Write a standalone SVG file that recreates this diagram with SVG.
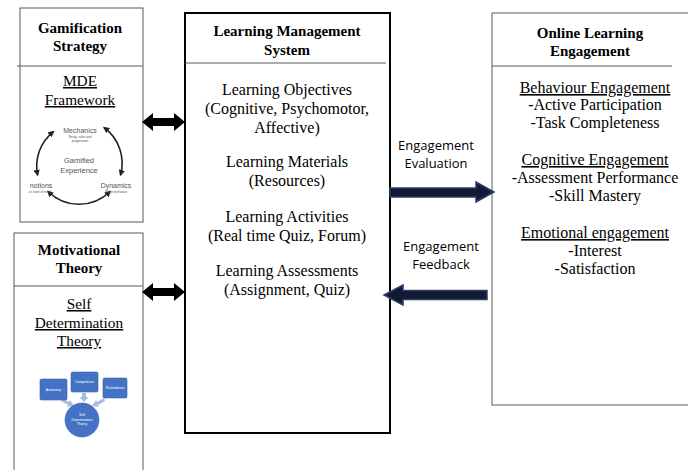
<svg xmlns="http://www.w3.org/2000/svg" width="688" height="470" viewBox="0 0 688 470">
  <style>
    .box { fill: #ffffff; stroke: #5a5a5a; stroke-width: 1; }
    .lms { fill: #ffffff; stroke: #000000; stroke-width: 2; }
    .div { stroke: #5a5a5a; stroke-width: 1; }
    .t { font-family: 'Liberation Serif', 'DejaVu Serif', serif; font-size: 15.3px; fill: #000; text-anchor: middle; }
    .m { font-size: 16px; }
    .b { font-weight: bold; font-size: 15px; }
    .u { text-decoration: underline; }
    .s { font-family: 'Open Sans', 'Liberation Sans', sans-serif; font-size: 13px; fill: #000; text-anchor: middle; }
    .tiny { font-family: 'Liberation Sans', sans-serif; fill: #555; text-anchor: middle; }
    .wt { font-family: 'Liberation Sans', sans-serif; font-size: 3.4px; fill: #ffffff; text-anchor: middle; }
    .cyc { fill: none; stroke: #222; stroke-width: 1.6; }
    .sdt { fill: #4472c4; stroke: #3a63ad; stroke-width: 0.6; }
    .sdtarrow { fill: #a9bce0; }
    .dbl { fill: #000; }
    .navy { fill: #111a33; stroke: #2c3d68; stroke-width: 1.5; }
  </style>
  <defs>
    <marker id="ah" viewBox="0 0 10 10" refX="8" refY="5" markerWidth="4" markerHeight="4" orient="auto-start-reverse">
      <path d="M0,0 L10,5 L0,10 Z" fill="#222"/>
    </marker>
  </defs>

  <!-- Gamification strategy -->
  <g id="gamification">
    <rect class="box" x="20" y="8" width="123" height="214"/>
    <line class="div" x1="17" y1="66" x2="143" y2="66"/>
    <text class="t b" x="80" y="33">Gamification</text>
    <text class="t b" x="80" y="51">Strategy</text>
    <text class="t u" x="80" y="86">MDE</text>
    <text class="t u" x="80" y="105">Framework</text>
    <!-- MDE cycle -->
    <path class="cyc" d="M53.5,131.6 A44,44 0 0 0 37.6,175" marker-start="url(#ah)" marker-end="url(#ah)"/>
    <path class="cyc" d="M48,191.5 A44,44 0 0 0 110,191.5" marker-start="url(#ah)" marker-end="url(#ah)"/>
    <path class="cyc" d="M104,127.5 A44,44 0 0 1 120.5,175" marker-start="url(#ah)" marker-end="url(#ah)"/>
    <text class="tiny" x="80" y="133" font-size="7">Mechanics</text>
    <text class="tiny" x="80" y="138" font-size="3.2">Setup, rules and</text>
    <text class="tiny" x="80" y="141.5" font-size="3.2">progression</text>
    <text class="tiny" x="79" y="163" font-size="7.5">Gamified</text>
    <text class="tiny" x="79" y="173" font-size="7.5">Experience</text>
    <text class="tiny" x="41" y="188" font-size="7">notions</text>
    <text class="tiny" x="40" y="192.5" font-size="3.2">or state of mind</text>
    <text class="tiny" x="116" y="188" font-size="7">Dynamics</text>
    <text class="tiny" x="116" y="192.5" font-size="3.2">Player behavior</text>
  </g>

  <!-- Motivational theory -->
  <g id="motivational">
    <rect class="box" x="14" y="233" width="129" height="250"/>
    <line class="div" x1="14" y1="286" x2="143" y2="286"/>
    <text class="t b" x="79" y="255">Motivational</text>
    <text class="t b" x="79" y="273">Theory</text>
    <text class="t u" x="79" y="309">Self</text>
    <text class="t u" x="79" y="328">Determination</text>
    <text class="t u" x="79" y="346">Theory</text>
    <!-- SDT sketch -->
    <path class="sdtarrow" d="M62,398 L69,402 L70,400 L74,406 L67,407 L68,405 L61,401 Z"/>
    <path class="sdtarrow" d="M82,393 L86,393 L86,397 L88.5,397 L84,402 L79.5,397 L82,397 Z"/>
    <path class="sdtarrow" d="M104,398 L97,402 L96,400 L92,406 L99,407 L98,405 L105,401 Z"/>
    <rect class="sdt" x="40" y="379" width="27" height="21" rx="1.5"/>
    <rect class="sdt" x="71" y="372" width="27" height="20" rx="1.5"/>
    <rect class="sdt" x="103" y="378" width="24" height="20" rx="1.5"/>
    <circle class="sdt" cx="82" cy="420" r="17"/>
    <text class="wt" x="53.5" y="391">Autonomy</text>
    <text class="wt" x="84.5" y="383">Competence</text>
    <text class="wt" x="115" y="389">Relatedness</text>
    <text class="wt" x="82" y="416">Self</text>
    <text class="wt" x="82" y="420.5">Determination</text>
    <text class="wt" x="82" y="425">Theory</text>
  </g>

  <!-- Learning management system -->
  <g id="lms">
    <rect class="lms" x="185" y="13" width="205" height="420"/>
    <line class="div" x1="185" y1="63" x2="386" y2="63"/>
    <text class="t b" x="287" y="36">Learning Management</text>
    <text class="t b" x="287" y="55">System</text>
    <text class="t m" x="287" y="95">Learning Objectives</text>
    <text class="t m" x="287" y="114">(Cognitive, Psychomotor,</text>
    <text class="t m" x="287" y="133">Affective)</text>
    <text class="t m" x="287" y="167">Learning Materials</text>
    <text class="t m" x="287" y="186">(Resources)</text>
    <text class="t m" x="287" y="222">Learning Activities</text>
    <text class="t m" x="287" y="241">(Real time Quiz, Forum)</text>
    <text class="t m" x="287" y="276">Learning Assessments</text>
    <text class="t m" x="287" y="295">(Assignment, Quiz)</text>
  </g>

  <!-- Online learning engagement -->
  <g id="engagement">
    <rect class="box" x="492" y="13" width="210" height="392"/>
    <line class="div" x1="492" y1="66" x2="672" y2="66"/>
    <text class="t b" x="590" y="38">Online Learning</text>
    <text class="t b" x="590" y="56">Engagement</text>
    <text class="t m u" x="595" y="93">Behaviour Engagement</text>
    <text class="t m" x="595" y="110">-Active Participation</text>
    <text class="t m" x="595" y="128">-Task Completeness</text>
    <text class="t m u" x="595" y="165">Cognitive Engagement</text>
    <text class="t m" x="595" y="183">-Assessment Performance</text>
    <text class="t m" x="595" y="201">-Skill Mastery</text>
    <text class="t m u" x="595" y="238">Emotional engagement</text>
    <text class="t m" x="595" y="256">-Interest</text>
    <text class="t m" x="595" y="274">-Satisfaction</text>
  </g>

  <!-- Connectors -->
  <g id="connectors">
    <polygon class="dbl" points="142,122 153,113 153,118 174,118 174,113 185,122 174,131 174,126 153,126 153,131"/>
    <polygon class="dbl" points="142,292 153,283 153,288 174,288 174,283 185,292 174,301 174,296 153,296 153,301"/>
    <polygon class="navy" points="390,188 476,188 476,182 494,192 476,202 476,197 390,197"/>
    <polygon class="navy" points="487,290.5 403,290.5 403,285 384,295 403,305 403,299.5 487,299.5"/>
    <text class="s" x="436" y="150">Engagement</text>
    <text class="s" x="436" y="168">Evaluation</text>
    <text class="s" x="441" y="251">Engagement</text>
    <text class="s" x="441" y="269">Feedback</text>
  </g>
</svg>
